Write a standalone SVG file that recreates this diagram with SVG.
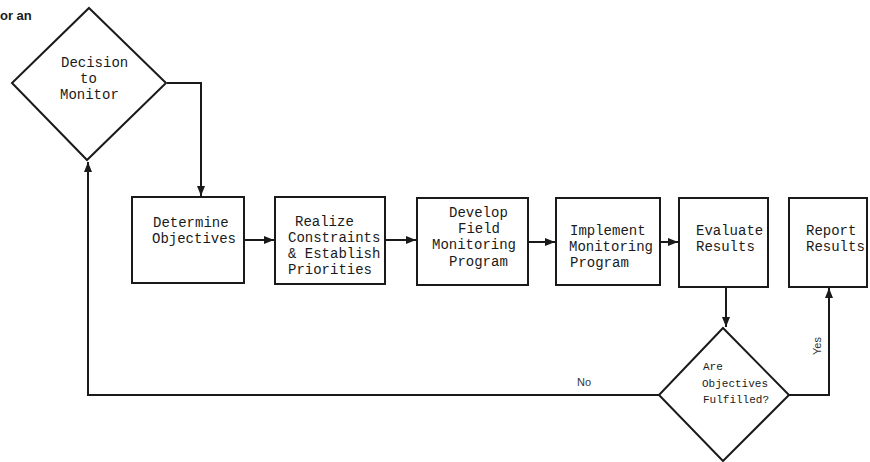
<svg xmlns="http://www.w3.org/2000/svg" width="870" height="462" viewBox="0 0 870 462">
<style>
.box{fill:#fff;stroke:#1a1a1a;stroke-width:2}
.ln{fill:none;stroke:#1a1a1a;stroke-width:2}
.t{font-family:"Liberation Mono","DejaVu Sans Mono",monospace;font-size:14px;fill:#1a1a1a}
.ts{font-family:"Liberation Mono","DejaVu Sans Mono",monospace;font-size:11px;fill:#1a1a1a}
.lab{font-family:"Liberation Sans",Arial,sans-serif;font-size:11px;fill:#333}
</style>
<defs>
<marker id="ah" viewBox="0 0 10 8" refX="10" refY="4" markerWidth="10" markerHeight="8" markerUnits="userSpaceOnUse" orient="auto">
<path d="M0,0 L10,4 L0,8 Z" fill="#1a1a1a"/>
</marker>
</defs>
<rect width="870" height="462" fill="#fff"/>
<text x="0" y="20" font-family="Liberation Sans,Arial,sans-serif" font-size="13" font-weight="bold" fill="#1a1a1a">or an</text>

<g id="connectors">
<polyline class="ln" points="167,83 201,83 201,196" marker-end="url(#ah)"/>
<line class="ln" x1="244" y1="240" x2="274" y2="240" marker-end="url(#ah)"/>
<line class="ln" x1="385" y1="240" x2="416" y2="240" marker-end="url(#ah)"/>
<line class="ln" x1="528" y1="242" x2="555" y2="242" marker-end="url(#ah)"/>
<line class="ln" x1="660" y1="242" x2="678" y2="242" marker-end="url(#ah)"/>
<line class="ln" x1="726" y1="287" x2="726" y2="327" marker-end="url(#ah)"/>
<polyline class="ln" points="789,395 829,395 829,288" marker-end="url(#ah)"/>
<polyline class="ln" points="659,395 88,395 88,162" marker-end="url(#ah)"/>
<text class="lab" x="577" y="386">No</text>
<text class="lab" x="821" y="355" transform="rotate(-90 821 355)">Yes</text>
</g>

<g id="decision-monitor">
<polygon class="box" points="89,8 166,83 87,160 12,83"/>
<text class="t" x="61" y="67">Decision</text>
<text class="t" x="80" y="83">to</text>
<text class="t" x="60" y="99">Monitor</text>
</g>

<g id="determine-objectives">
<rect class="box" x="132" y="197" width="112" height="86"/>
<text class="t" x="153" y="227">Determine</text>
<text class="t" x="152" y="243">Objectives</text>
</g>

<g id="realize-constraints">
<rect class="box" x="275" y="197" width="110" height="87"/>
<text class="t" x="295" y="226">Realize</text>
<text class="t" x="288" y="242">Constraints</text>
<text class="t" x="288" y="258">&amp; Establish</text>
<text class="t" x="288" y="274">Priorities</text>
</g>

<g id="develop-program">
<rect class="box" x="417" y="198" width="111" height="87"/>
<text class="t" x="449" y="217">Develop</text>
<text class="t" x="458" y="233">Field</text>
<text class="t" x="432" y="249">Monitoring</text>
<text class="t" x="449" y="266">Program</text>
</g>

<g id="implement-program">
<rect class="box" x="556" y="198" width="104" height="87"/>
<text class="t" x="570" y="235">Implement</text>
<text class="t" x="569" y="251">Monitoring</text>
<text class="t" x="570" y="267">Program</text>
</g>

<g id="evaluate-results">
<rect class="box" x="679" y="198" width="89" height="89"/>
<text class="t" x="696" y="235">Evaluate</text>
<text class="t" x="696" y="251">Results</text>
</g>

<g id="report-results">
<rect class="box" x="789" y="198" width="78" height="89"/>
<text class="t" x="806" y="235">Report</text>
<text class="t" x="806" y="251">Results</text>
</g>

<g id="objectives-fulfilled">
<polygon class="box" points="723,328 789,395 723,461 659,395"/>
<text class="ts" x="703" y="370">Are</text>
<text class="ts" x="702" y="387">Objectives</text>
<text class="ts" x="703" y="403">Fulfilled?</text>
</g>
</svg>
